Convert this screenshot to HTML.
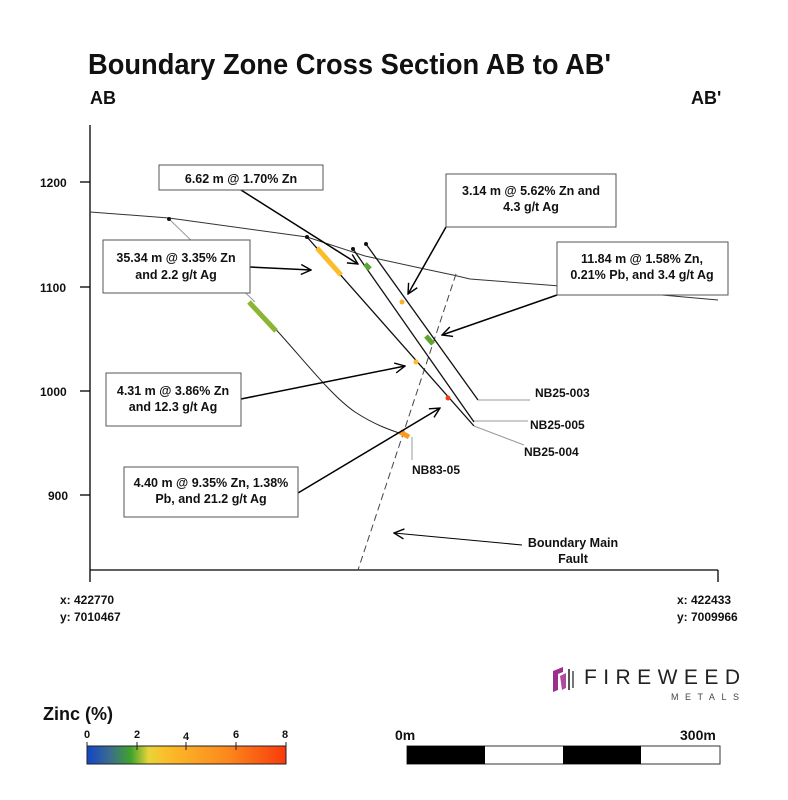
<!DOCTYPE html>
<html><head><meta charset="utf-8"><style>
html,body{margin:0;padding:0;background:#fff;}
svg{display:block;font-family:"Liberation Sans",sans-serif;}
</style></head><body>
<svg width="788" height="800" viewBox="0 0 788 800" xmlns="http://www.w3.org/2000/svg">
<defs>
<linearGradient id="zg" x1="0" x2="1" y1="0" y2="0">
<stop offset="0" stop-color="#1245c8"/><stop offset="0.12" stop-color="#3c6e8a"/>
<stop offset="0.22" stop-color="#3fa32a"/><stop offset="0.31" stop-color="#e8d43a"/>
<stop offset="0.4" stop-color="#fbbd2a"/><stop offset="0.7" stop-color="#fb8a1c"/>
<stop offset="1" stop-color="#fa3a0c"/></linearGradient>
<marker id="ah" viewBox="0 0 12 12" refX="11" refY="6" markerWidth="12" markerHeight="12" markerUnits="userSpaceOnUse" orient="auto"><path d="M1,1 L11,6 L1,11" fill="none" stroke="#000" stroke-width="1.4"/></marker>
</defs>
<text x="88" y="74" font-size="29" font-weight="bold" fill="#111" textLength="523" lengthAdjust="spacingAndGlyphs">Boundary Zone Cross Section AB to AB'</text>
<text x="90" y="104" font-size="18" font-weight="bold" fill="#111">AB</text>
<text x="691" y="104" font-size="18" font-weight="bold" fill="#111">AB'</text>
<!-- axes -->
<g stroke="#000" stroke-width="1.3" fill="none">
<line x1="90" y1="125" x2="90" y2="582"/><line x1="90" y1="570" x2="718" y2="570"/>
<line x1="718" y1="570" x2="718" y2="582"/>
<line x1="80" y1="182" x2="90" y2="182"/><line x1="80" y1="287" x2="90" y2="287"/>
<line x1="80" y1="391" x2="90" y2="391"/><line x1="80" y1="495" x2="90" y2="495"/>
</g>
<g font-size="12" font-weight="bold" fill="#111">
<text x="40" y="187">1200</text><text x="40" y="292">1100</text><text x="40" y="396">1000</text><text x="48" y="500">900</text>
<text x="60" y="604">x: 422770</text><text x="60" y="621">y: 7010467</text>
<text x="677" y="604">x: 422433</text><text x="677" y="621">y: 7009966</text>
</g>
<!-- topography -->
<polyline points="90,212 169,218 307,237 365,256 420,268 453,275 470,279 560,286 718,300" fill="none" stroke="#333" stroke-width="1"/>
<!-- fault -->
<line x1="456" y1="274" x2="358" y2="570" stroke="#444" stroke-width="1" stroke-dasharray="7,4"/>
<!-- holes -->
<g fill="none">
<path d="M169,219 L255,302" stroke="#999" stroke-width="1"/>
<path d="M270,323 C300,355 330,395 355,412 C375,425 390,430 405,435" stroke="#222" stroke-width="1"/>
<path d="M307,237 L474,426" stroke="#111" stroke-width="1.3"/>
<path d="M353,249 L474,422" stroke="#111" stroke-width="1.3"/>
<path d="M366,244 L478,400" stroke="#111" stroke-width="1.3"/>
<path d="M474,426 L524,445" stroke="#999" stroke-width="1"/>
<path d="M474,421 L528,421" stroke="#999" stroke-width="1"/>
<path d="M478,400 L530,400" stroke="#999" stroke-width="1"/>
<path d="M412,437 L412,460" stroke="#999" stroke-width="1"/>
<line x1="249" y1="302" x2="276" y2="331" stroke="#8ab634" stroke-width="5"/>
<line x1="317" y1="248" x2="341" y2="275" stroke="#fbbd2a" stroke-width="5"/>
<line x1="365" y1="264" x2="370" y2="269" stroke="#5aa832" stroke-width="5"/>
<line x1="426" y1="336" x2="433" y2="344" stroke="#5aa832" stroke-width="5"/>
<line x1="400" y1="432" x2="409" y2="437" stroke="#fb9a1c" stroke-width="5"/>
</g>
<circle cx="169" cy="219" r="2" fill="#111"/><circle cx="307" cy="237" r="2" fill="#111"/>
<circle cx="353" cy="249" r="2" fill="#111"/><circle cx="366" cy="244" r="2" fill="#111"/>
<circle cx="402" cy="302" r="2.5" fill="#fbb02a"/><circle cx="416" cy="362" r="2.5" fill="#fbbd2a"/>
<circle cx="448" cy="398" r="2.5" fill="#fa3a0c"/>
<!-- arrows -->
<g stroke="#000" stroke-width="1.5" marker-end="url(#ah)" fill="none">
<line x1="241" y1="190" x2="358" y2="264"/>
<line x1="250" y1="267" x2="311" y2="270"/>
<line x1="446" y1="227" x2="408" y2="294"/>
<line x1="557" y1="295" x2="442" y2="335"/>
<line x1="241" y1="399" x2="405" y2="366"/>
<line x1="298" y1="493" x2="440" y2="408"/>
<line x1="522" y1="545" x2="394" y2="533" stroke-width="1"/>
</g>
<!-- boxes -->
<g fill="#fff" stroke="#555" stroke-width="1">
<rect x="159" y="165" width="164" height="25"/>
<rect x="103" y="240" width="147" height="53"/>
<rect x="446" y="174" width="170" height="53"/>
<rect x="557" y="242" width="171" height="53"/>
<rect x="106" y="373" width="135" height="53"/>
<rect x="124" y="467" width="174" height="50"/>
</g>
<g font-size="12.5" font-weight="bold" fill="#111" text-anchor="middle">
<text x="241" y="183">6.62 m @ 1.70% Zn</text>
<text x="176" y="262">35.34 m @ 3.35% Zn</text><text x="176" y="279">and 2.2 g/t Ag</text>
<text x="531" y="195">3.14 m @ 5.62% Zn and</text><text x="531" y="211">4.3 g/t Ag</text>
<text x="642" y="263">11.84 m @ 1.58% Zn,</text><text x="642" y="279">0.21% Pb, and 3.4 g/t Ag</text>
<text x="173" y="395">4.31 m @ 3.86% Zn</text><text x="173" y="411">and 12.3 g/t Ag</text>
<text x="211" y="487">4.40 m @ 9.35% Zn, 1.38%</text><text x="211" y="503">Pb, and 21.2 g/t Ag</text>
<text x="573" y="547">Boundary Main</text><text x="573" y="563">Fault</text>
</g>
<g font-size="12" font-weight="bold" fill="#111">
<text x="535" y="397">NB25-003</text><text x="530" y="429">NB25-005</text>
<text x="524" y="456">NB25-004</text><text x="412" y="474">NB83-05</text>
</g>
<!-- logo -->
<g>
<path d="M553,671 L563,667 L563,672 L558,674 L558,690 L553,692 Z" fill="#9c2f8c"/>
<path d="M560,676 L566,673 L566,688 L562,690 Z" fill="#b04aa0"/>
<rect x="568" y="669" width="2" height="21" fill="#555"/><rect x="572" y="671" width="2" height="17" fill="#777"/>
<text x="584" y="684" font-size="21" fill="#222" textLength="156" lengthAdjust="spacing">FIREWEED</text>
<text x="671" y="700" font-size="9" fill="#444" textLength="68" lengthAdjust="spacing">METALS</text>
</g>
<!-- legend -->
<text x="43" y="720" font-size="18" font-weight="bold" fill="#111">Zinc (%)</text>
<g font-size="11" font-weight="bold" fill="#111" text-anchor="middle">
<text x="87" y="738">0</text><text x="137" y="738">2</text><text x="186" y="740">4</text><text x="236" y="738">6</text><text x="285" y="738">8</text>
</g>
<rect x="87" y="746" width="199" height="18" fill="url(#zg)" stroke="#222" stroke-width="1"/>
<g stroke="#222" stroke-width="1"><line x1="137" y1="742" x2="137" y2="750"/><line x1="186" y1="742" x2="186" y2="750"/><line x1="236" y1="742" x2="236" y2="750"/><line x1="87" y1="742" x2="87" y2="746"/><line x1="286" y1="742" x2="286" y2="746"/></g>
<text x="395" y="740" font-size="14" font-weight="bold" fill="#111">0m</text>
<text x="680" y="740" font-size="14" font-weight="bold" fill="#111">300m</text>
<rect x="407" y="746" width="313" height="18" fill="#fff" stroke="#333" stroke-width="1"/>
<rect x="407" y="746" width="78" height="18" fill="#000"/><rect x="563" y="746" width="78" height="18" fill="#000"/>
</svg>
</body></html>
